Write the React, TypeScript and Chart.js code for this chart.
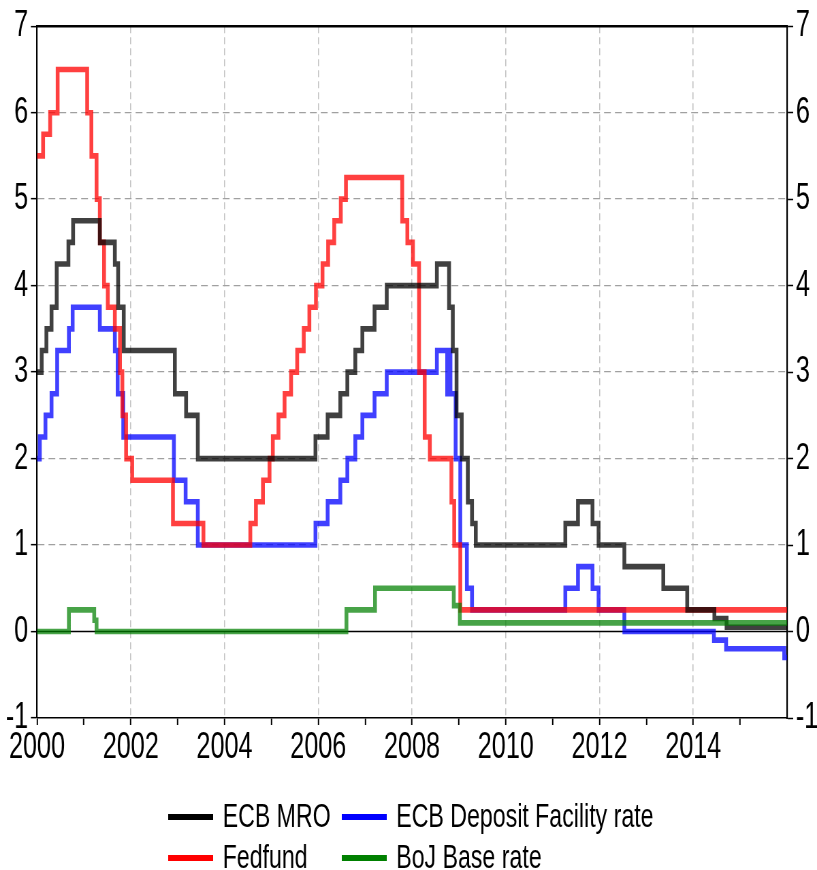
import React, { useEffect, useRef } from "react";
import { Chart, registerables } from "chart.js";

Chart.register(...registerables);

// ---- data: [year (fractional), rate %] at each change ----
const ecbMro: number[][] = [
  [2000.0, 3.0], [2000.1, 3.25], [2000.2, 3.5], [2000.31, 3.75], [2000.42, 4.25],
  [2000.67, 4.5], [2000.77, 4.75], [2001.34, 4.5], [2001.66, 4.25], [2001.73, 3.75],
  [2001.85, 3.25], [2002.94, 2.75], [2003.18, 2.5], [2003.43, 2.0], [2005.94, 2.25],
  [2006.2, 2.5], [2006.47, 2.75], [2006.62, 3.0], [2006.79, 3.25], [2006.94, 3.5],
  [2007.2, 3.75], [2007.46, 4.0], [2008.53, 4.25], [2008.79, 3.75], [2008.87, 3.25],
  [2008.95, 2.5], [2009.06, 2.0], [2009.19, 1.5], [2009.28, 1.25], [2009.36, 1.0],
  [2011.27, 1.25], [2011.54, 1.5], [2011.85, 1.25], [2011.98, 1.0], [2012.53, 0.75],
  [2013.36, 0.5], [2013.87, 0.25], [2014.45, 0.15], [2014.71, 0.05], [2016.0, 0.05],
];

const ecbDeposit: number[][] = [
  [2000.0, 2.0], [2000.06, 2.25], [2000.18, 2.5], [2000.31, 2.75], [2000.43, 3.25],
  [2000.68, 3.5], [2000.76, 3.75], [2001.34, 3.5], [2001.66, 3.25], [2001.72, 2.75],
  [2001.84, 2.25], [2002.92, 1.75], [2003.17, 1.5], [2003.43, 1.0], [2005.94, 1.25],
  [2006.2, 1.5], [2006.47, 1.75], [2006.62, 2.0], [2006.79, 2.25], [2006.94, 2.5],
  [2007.2, 2.75], [2007.46, 3.0], [2008.53, 3.25], [2008.75, 2.75], [2008.78, 3.25],
  [2008.82, 2.75], [2008.93, 2.0], [2009.03, 1.0], [2009.17, 0.5], [2009.28, 0.25],
  [2011.27, 0.5], [2011.54, 0.75], [2011.85, 0.5], [2011.98, 0.25], [2012.53, 0.0],
  [2014.44, -0.1], [2014.7, -0.2], [2015.94, -0.3], [2016.0, -0.3],
];

const fedfund: number[][] = [
  [2000.0, 5.5], [2000.13, 5.75], [2000.28, 6.0], [2000.44, 6.5], [2001.07, 6.0],
  [2001.16, 5.5], [2001.27, 5.0], [2001.34, 4.5], [2001.43, 4.0], [2001.51, 3.75],
  [2001.66, 3.5], [2001.77, 3.0], [2001.82, 2.5], [2001.9, 2.0], [2002.03, 1.75],
  [2002.9, 1.25], [2003.55, 1.0], [2004.55, 1.25], [2004.67, 1.5], [2004.82, 1.75],
  [2004.96, 2.0], [2005.03, 2.25], [2005.15, 2.5], [2005.28, 2.75], [2005.42, 3.0],
  [2005.55, 3.25], [2005.69, 3.5], [2005.81, 3.75], [2005.95, 4.0], [2006.09, 4.25],
  [2006.21, 4.5], [2006.34, 4.75], [2006.48, 5.0], [2006.59, 5.25], [2007.79, 4.75],
  [2007.9, 4.5], [2008.02, 4.25], [2008.15, 3.0], [2008.27, 2.25], [2008.38, 2.0],
  [2008.84, 1.5], [2008.9, 1.0], [2009.03, 0.25], [2016.0, 0.25],
];

const bojBase: number[][] = [
  [2000.0, 0.0], [2000.68, 0.25], [2001.22, 0.13], [2001.27, 0.0], [2006.6, 0.25],
  [2007.21, 0.5], [2008.89, 0.3], [2009.02, 0.1], [2016.0, 0.1],
];

const seriesLabels = ["ECB MRO", "ECB Deposit Facility rate", "Fedfund", "BoJ Base rate"];
const seriesLineColors = ["rgba(0,0,0,0.75)", "rgba(0,0,255,0.75)", "rgba(255,0,0,0.75)", "rgba(0,128,0,0.72)"];
const legendColors = ["#000000", "#0000ff", "#ff0000", "#008000"];
const seriesDrawOrder = [1, 3, 2, 0];

const xTickYears = [2000, 2001, 2002, 2003, 2004, 2005, 2006, 2007, 2008, 2009, 2010, 2011, 2012, 2013, 2014, 2015];
const xLabelYears = [2000, 2002, 2004, 2006, 2008, 2010, 2012, 2014];
const yMin = -1;
const yMax = 7;

// ---- layout (canvas drawn wide, then squeezed horizontally) ----
const W = 1200;
const H = 870;
const SX = 817 / W;
const FONT = "'Liberation Sans', Arial, sans-serif";

const framePlugin = {
  id: "frame",
  beforeDatasetsDraw(chart: any) {
    const { ctx, chartArea: a, scales } = chart;
    const y0 = scales.y.getPixelForValue(0);
    ctx.save();
    ctx.strokeStyle = "#000";
    ctx.lineWidth = 1.4;
    ctx.beginPath();
    ctx.moveTo(a.left, y0);
    ctx.lineTo(a.right, y0);
    ctx.stroke();
    ctx.lineWidth = 2.6;
    ctx.beginPath();
    ctx.moveTo(a.left, a.top);
    ctx.lineTo(a.right, a.top);
    ctx.stroke();
    ctx.restore();
  },
  afterDraw(chart: any) {
    const { ctx } = chart;
    const colX = [247, 502];
    const rowY = [817, 858];
    const sampleLen = 66;
    ctx.save();
    ctx.font = `34px ${FONT}`;
    ctx.textBaseline = "middle";
    ctx.textAlign = "left";
    seriesLabels.forEach((lab, i) => {
      const cx = colX[i % 2];
      const cy = rowY[Math.floor(i / 2)];
      ctx.strokeStyle = legendColors[i];
      ctx.lineWidth = 6;
      ctx.beginPath();
      ctx.moveTo(cx, cy);
      ctx.lineTo(cx + sampleLen, cy);
      ctx.stroke();
      ctx.fillStyle = "#000";
      ctx.fillText(lab, cx + sampleLen + 14, cy + 1);
    });
    ctx.restore();
  },
};

export default function App() {
  const ref = useRef<HTMLCanvasElement | null>(null);

  useEffect(() => {
    if (!ref.current) return;
    const all = [ecbMro, ecbDeposit, fedfund, bojBase];
    const chart = new Chart(ref.current, {
      type: "line",
      data: {
        datasets: all.map((s, i) => ({
          label: seriesLabels[i],
          data: s.map(([x, y]) => ({ x, y })),
          borderColor: seriesLineColors[i],
          backgroundColor: seriesLineColors[i],
          borderWidth: 5.6,
          pointRadius: 0,
          stepped: true,
          fill: false,
          order: seriesDrawOrder[i],
          yAxisID: "y",
        })),
      },
      options: {
        responsive: false,
        animation: false,
        events: [],
        layout: { padding: { top: 25, bottom: 100, left: 0, right: 0 } },
        plugins: { legend: { display: false }, tooltip: { enabled: false } },
        scales: {
          x: {
            type: "linear",
            min: 2000,
            max: 2016,
            afterBuildTicks: (s: any) => {
              s.ticks = xTickYears.map((v) => ({ value: v }));
            },
            afterFit: (s: any) => {
              s.height = 52;
            },
            ticks: {
              autoSkip: false,
              maxRotation: 0,
              color: "#000",
              padding: 1,
              font: { family: FONT, size: 37 },
              callback: (v: any) => (xLabelYears.includes(Number(v)) ? String(v) : ""),
            },
            grid: {
              color: (c: any) =>
                c.tick && c.tick.value % 2 === 0 && c.tick.value > 2000 ? "#c4c4c4" : "rgba(0,0,0,0)",
              lineWidth: 1.6,
              tickColor: "#000",
              tickLength: 7,
              tickWidth: 2,
              tickBorderDash: [],
            },
            border: { display: true, color: "#000", width: 1.5, dash: [7, 4] },
          },
          y: {
            type: "linear",
            position: "left",
            min: yMin,
            max: yMax,
            afterFit: (s: any) => {
              s.width = 54.35;
            },
            ticks: { stepSize: 1, color: "#000", padding: 4, font: { family: FONT, size: 37 } },
            grid: {
              color: (c: any) =>
                c.tick && (c.tick.value === 0 || c.tick.value === yMax || c.tick.value === yMin)
                  ? "rgba(0,0,0,0)"
                  : "#a0a0a0",
              lineWidth: 1.3,
              tickColor: "#000",
              tickLength: 9,
              tickWidth: 1.5,
              tickBorderDash: [],
            },
            border: { display: true, color: "#000", width: 2.2, dash: [10, 6] },
          },
          y2: {
            type: "linear",
            position: "right",
            min: yMin,
            max: yMax,
            afterFit: (s: any) => {
              s.width = 44;
            },
            ticks: { stepSize: 1, color: "#000", padding: 4, font: { family: FONT, size: 37 } },
            grid: {
              drawOnChartArea: false,
              color: "#000",
              tickColor: "#000",
              tickLength: 9,
              tickWidth: 1.5,
              tickBorderDash: [],
            },
            border: { display: true, color: "#000", width: 2.2 },
          },
        },
      },
      plugins: [framePlugin],
    } as any);
    return () => chart.destroy();
  }, []);

  return (
    <div
      style={{
        position: "fixed",
        left: 0,
        top: 0,
        width: 817,
        height: 870,
        overflow: "hidden",
        background: "#fff",
      }}
    >
      <div style={{ width: W, height: H, transform: `scaleX(${SX})`, transformOrigin: "0 0" }}>
        <canvas ref={ref} width={W} height={H} style={{ display: "block" }} />
      </div>
    </div>
  );
}
